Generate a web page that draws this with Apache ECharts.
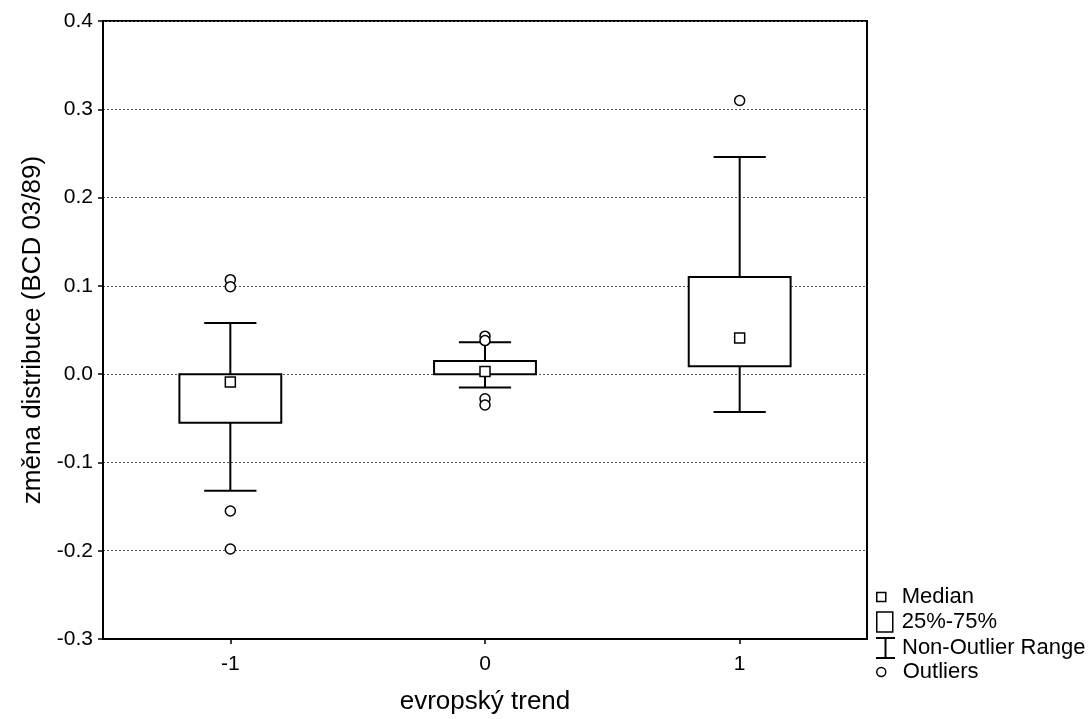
<!DOCTYPE html>
<html><head><meta charset="utf-8">
<script src="https://cdn.jsdelivr.net/npm/echarts@6/dist/echarts.min.js"></script>
<style>html,body{margin:0;padding:0;background:#fff}#c{width:1092px;height:719px}</style>
</head><body><div id="c"></div>
<script>
// ---- data ----
const categories = ['-1', '0', '1'];
const q1 = [-0.055, 0.000, 0.009];
const q3 = [0.000, 0.015, 0.110];
const medians = [-0.009, 0.003, 0.041];
const whiskerLow = [-0.132, -0.015, -0.043];
const whiskerHigh = [0.058, 0.036, 0.246];
const outlierCat = [0, 0, 0, 0, 1, 1, 1, 1, 2];
const outlierVal = [0.107, 0.099, -0.155, -0.198, 0.043, 0.038, -0.028, -0.035, 0.310];
const legendNames = ['Median', '25%-75%', 'Non-Outlier Range', 'Outliers'];
const xTitle = 'evropský trend';
const yTitle = 'změna distribuce (BCD 03/89)';

// ---- chart ----
const FONT = '"Liberation Sans", Arial, sans-serif';
const chart = echarts.init(document.getElementById('c'), null, {renderer: 'canvas'});

const boxData = categories.map((c, i) => [i, q1[i], q3[i]]);
const whiskerData = categories.map((c, i) => [i, whiskerLow[i], q1[i], q3[i], whiskerHigh[i]]);
const medianData = categories.map((c, i) => [i, medians[i]]);
const outlierData = outlierCat.map((c, i) => [c, outlierVal[i]]);

const LW = 2;
function legend(name, top, icon, w, h, pad, itemStyle) {
  return {
    show: true, orient: 'vertical', left: 876, top: top, padding: 0,
    itemWidth: w, itemHeight: h, selectedMode: false,
    textStyle: {fontFamily: FONT, fontSize: 22, color: '#000', padding: [0, 0, 0, pad], lineHeight: 22},
    data: [{name: name, icon: icon, itemStyle: itemStyle}]
  };
}

const option = {
  animation: false,
  backgroundColor: '#fff',
  grid: {left: 103, right: 225, top: 21, bottom: 80, containLabel: false, outerBoundsMode: 'none',
    show: true, borderColor: '#000', borderWidth: LW, backgroundColor: 'transparent'},
  legend: [
    legend(legendNames[0], 586, 'rect', 9, 9, 11, {color: '#fff', borderColor: '#000', borderWidth: 1.5}),
    legend(legendNames[1], 611, 'rect', 16, 20, 4, {color: '#fff', borderColor: '#000', borderWidth: 1.5}),
    legend(legendNames[2], 637, 'path://M0,0h19v2h-19z M8.5,2h2v18h-2z M0,20h19v2h-19z', 19, 22, 2, {color: '#000', borderWidth: 0}),
    legend(legendNames[3], 661, 'circle', 9, 9, 12, {color: '#fff', borderColor: '#000', borderWidth: 1.5})
  ],
  xAxis: {
    type: 'category', data: categories, boundaryGap: true,
    name: xTitle, nameLocation: 'middle', nameGap: 50,
    nameTextStyle: {fontFamily: FONT, fontSize: 26, color: '#000'},
    axisLine: {show: true, onZero: false, lineStyle: {color: '#000', width: LW}},
    axisTick: {show: true, alignWithLabel: true, length: 5, lineStyle: {color: '#000', width: 1.5}},
    axisLabel: {fontFamily: FONT, fontSize: 21, color: '#000', margin: 15},
    splitLine: {show: false}
  },
  yAxis: {
    type: 'value', min: -0.3, max: 0.4, interval: 0.1,
    name: yTitle, nameLocation: 'middle', nameGap: 57,
    nameTextStyle: {fontFamily: FONT, fontSize: 26, color: '#000'},
    axisLine: {show: true, onZero: false, lineStyle: {color: '#000', width: LW}},
    axisTick: {show: true, length: 5, lineStyle: {color: '#000', width: 1.5}},
    axisLabel: {fontFamily: FONT, fontSize: 21, color: '#000', margin: 10,
      formatter: v => (Math.abs(v) < 1e-9 ? 0 : v).toFixed(1)},
    splitLine: {show: true, lineStyle: {color: '#555', width: 1, type: [2, 2]}}
  },
  series: [
    {
      name: legendNames[2], type: 'custom', z: 2,
      encode: {x: 0, y: [1, 2, 3, 4]},
      data: whiskerData,
      renderItem: function (params, api) {
        const i = api.value(0);
        const pLow = api.coord([i, api.value(1)]);
        const pQ1 = api.coord([i, api.value(2)]);
        const pQ3 = api.coord([i, api.value(3)]);
        const pHigh = api.coord([i, api.value(4)]);
        const cw = api.size([1, 0])[0] * 0.205 / 2;
        const st = {stroke: '#000', lineWidth: LW, fill: null};
        return {type: 'group', children: [
          {type: 'line', shape: {x1: pQ3[0], y1: pQ3[1], x2: pHigh[0], y2: pHigh[1]}, style: st},
          {type: 'line', shape: {x1: pHigh[0] - cw, y1: pHigh[1], x2: pHigh[0] + cw, y2: pHigh[1]}, style: st},
          {type: 'line', shape: {x1: pQ1[0], y1: pQ1[1], x2: pLow[0], y2: pLow[1]}, style: st},
          {type: 'line', shape: {x1: pLow[0] - cw, y1: pLow[1], x2: pLow[0] + cw, y2: pLow[1]}, style: st}
        ]};
      }
    },
    {
      name: legendNames[1], type: 'custom', z: 3,
      encode: {x: 0, y: [1, 2]},
      data: boxData,
      renderItem: function (params, api) {
        const i = api.value(0);
        const pLo = api.coord([i, api.value(1)]);
        const pHi = api.coord([i, api.value(2)]);
        const w = api.size([1, 0])[0] * 0.4;
        return {type: 'rect', shape: {x: pHi[0] - w / 2, y: pHi[1], width: w, height: pLo[1] - pHi[1]},
          style: {fill: '#fff', stroke: '#000', lineWidth: LW}};
      }
    },
    {
      name: legendNames[0], type: 'scatter', z: 4,
      symbol: 'rect', symbolSize: 10,
      itemStyle: {color: '#fff', borderColor: '#000', borderWidth: 1.5, opacity: 1},
      data: medianData
    },
    {
      name: legendNames[3], type: 'scatter', z: 4,
      symbol: 'circle', symbolSize: 10,
      itemStyle: {color: '#fff', borderColor: '#000', borderWidth: 1.5, opacity: 1},
      data: outlierData
    }
  ]
};
chart.setOption(option);
</script>
</body></html>
